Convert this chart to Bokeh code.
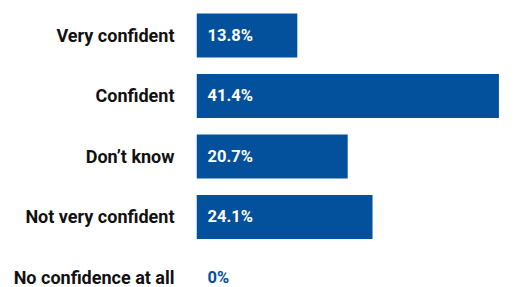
from bokeh.plotting import figure
from bokeh.models import Range1d, FixedTicker, ColumnDataSource
from bokeh.core.properties import value
from bokeh.embed import file_html
from bokeh.resources import INLINE

categories = ["Very confident", "Confident", "Don\u2019t know", "Not very confident", "No confidence at all"]
values = [13.8, 41.4, 20.7, 24.1, 0.0]
value_labels = ["13.8%", "41.4%", "20.7%", "24.1%", "0%"]

BLUE = "#03509c"
pos = list(range(len(categories)))
label_colors = ["white" if v > 0 else BLUE for v in values]

src = ColumnDataSource(dict(y=pos, v=values, lab=value_labels, col=label_colors))

# rows centred at canvas y = 35 + 60.5*i
p = figure(width=532, height=287, output_backend="svg", toolbar_location=None,
           x_range=Range1d(0, 46), y_range=Range1d(4.1653, -0.5785),
           min_border_left=196, min_border_right=0, min_border_top=0, min_border_bottom=0)
p.outline_line_color = None
p.grid.visible = False
p.xaxis.visible = False
p.background_fill_color = "white"
p.border_fill_color = "white"

p.hbar(y="y", right="v", left=0, height=0.727, source=src, color=BLUE, line_color=None)
p.text(x=0, y="y", text="lab", source=src, x_offset=11, text_color="col",
       text_font=value("Roboto"), text_font_style="bold", text_font_size="16.5px",
       text_baseline="middle", text_align="left")

ya = p.yaxis[0]
ya.ticker = FixedTicker(ticks=pos)
ya.major_label_overrides = {i: c for i, c in enumerate(categories)}
ya.axis_line_color = None
ya.major_tick_line_color = None
ya.minor_tick_line_color = None
ya.major_label_standoff = 16
ya.major_label_text_font = "Roboto"
ya.major_label_text_font_style = "bold"
ya.major_label_text_font_size = "18px"
ya.major_label_text_color = "#111111"

open("out.html", "w").write(file_html(p, INLINE))
